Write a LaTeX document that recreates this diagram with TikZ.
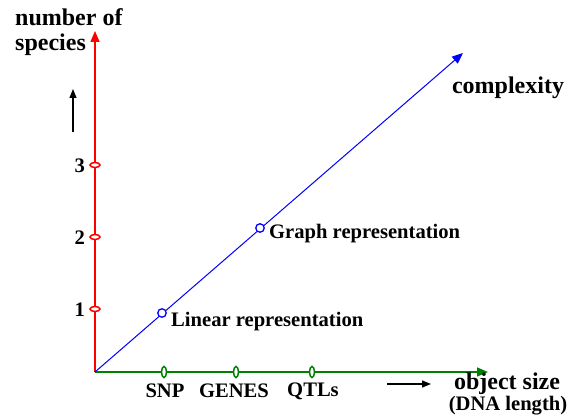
\documentclass[tikz,border=0pt]{standalone}
\usepackage{fontspec}
\setmainfont{Liberation Serif}
\usetikzlibrary{arrows.meta,shapes.geometric}
\definecolor{axgreen}{RGB}{0,128,0}
\begin{document}
\begin{tikzpicture}[x=1pt,y=-1pt,
  big/.style={font=\fontsize{24}{26}\selectfont\bfseries, inner sep=0pt},
  lab/.style={font=\fontsize{20.6}{21}\selectfont\bfseries, inner sep=0pt},
  rtick/.style={draw=red, fill=white, line width=1.5pt, ellipse, minimum width=10pt, minimum height=5pt, inner sep=0pt},
  gtick/.style={draw=axgreen, fill=white, line width=1.5pt, ellipse, minimum width=5pt, minimum height=11pt, inner sep=0pt},
  bdot/.style={draw=blue, fill=white, line width=1.3pt, circle, minimum size=8.5pt, inner sep=0pt},
  tip/.style={-{Triangle[length=11pt,width=9pt]}}
]
\useasboundingbox (0,0) rectangle (571,419);
\coordinate (O) at (95,372);
\coordinate (Ytop) at (95,31);
\coordinate (Xend) at (488,372);
\coordinate (Cend) at (463,53);
% axes
\draw[red, line width=1.5pt, tip] (O) -- (Ytop);
\draw[axgreen, line width=1.5pt, tip] (O) -- (Xend);
\draw[blue, line width=1pt, tip] (O) -- (Cend);
% red ticks
\node[rtick] (t3) at (95,165) {};
\node[rtick] (t2) at (95,237) {};
\node[rtick] (t1) at (95,309) {};
\node[lab, anchor=east] (l3) at (85,166) {3};
\node[lab, anchor=east] (l2) at (85,238) {2};
\node[lab, anchor=east] (l1) at (85,310) {1};
% green ticks
\node[gtick] (gs) at (164,372) {};
\node[gtick] (gg) at (236,372) {};
\node[gtick] (gq) at (312,372) {};
\node[lab] (snp) at (165,391) {SNP};
\node[lab] (genes) at (234,391) {GENES};
\node[lab] (qtl) at (313,391) {QTLs};
% blue dots
\node[bdot] (lin) at (162,313) {};
\node[bdot] (gra) at (260,228) {};
\node[lab, anchor=west] (linl) at (171,322) {Linear representation};
\node[lab, anchor=west] (gral) at (269,234) {Graph representation};
% titles
\node[big, anchor=west] (nos) at (15,17) {number of};
\node[big, anchor=west] (spe) at (15,45) {species};
\node[big] (cplx) at (508,88) {complexity};
\node[big] (obj) at (507,384) {object size};
\node[lab] (dna) at (508,406) {(DNA length)};
% black arrows
\coordinate (ua) at (73,132);
\coordinate (ub) at (73,89);
\draw[black, line width=1.2pt, -{Triangle[length=9pt,width=7pt]}] (ua) -- (ub);
\coordinate (ra) at (387,384);
\coordinate (rb) at (431,384);
\draw[black, line width=1.2pt, -{Triangle[length=9pt,width=7pt]}] (ra) -- (rb);
\end{tikzpicture}
\end{document}
